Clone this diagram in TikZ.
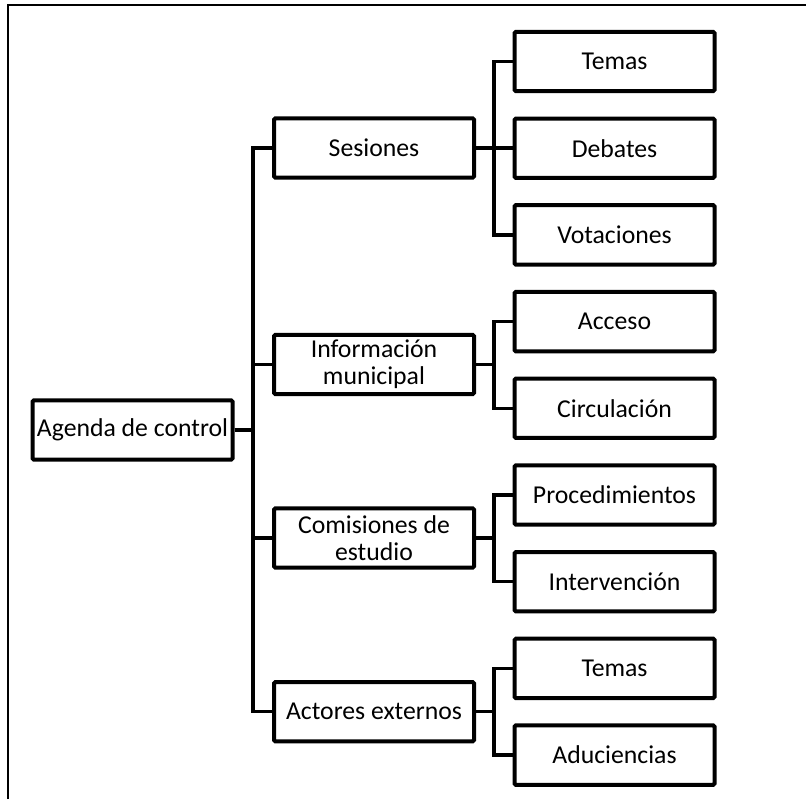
\documentclass[tikz,border=0pt]{standalone}
\usepackage{fontspec}
\setmainfont{Carlito}
\usetikzlibrary{positioning}

\tikzset{
    caja/.style={draw, line width=3pt, rounded corners=1pt, fill=white,
        minimum width=150pt, minimum height=44.5pt, inner sep=0.5pt,
        align=center, font=\fontsize{19.3}{20.5}\selectfont},
    conector/.style={line width=2.6pt, line join=miter}
}

\begin{document}
\begin{tikzpicture}[x=0.75pt, y=-0.75pt]
    \useasboundingbox (0,0) rectangle (806,799);
    % Frame (only top and left edges are visible)
    \draw[line width=1.4pt] (8,799) -- (8,5) -- (806,5);

    % Root
    \node[caja] (raiz) at (132.5,430) {Agenda de control};

    % Second level
    \node[caja] (ses) at (374,148)   {Sesiones};
    \node[caja] (inf) at (374,364.5) {Información\\municipal};
    \node[caja] (com) at (374,538)   {Comisiones de\\estudio};
    \node[caja] (act) at (374,711.7) {Actores externos};

    % Third level
    \node[caja] (tem1) at (614.5,61.5)  {Temas};
    \node[caja] (deb)  at (614.5,148.2) {Debates};
    \node[caja] (vot)  at (614.5,234.9) {Votaciones};
    \node[caja] (acc)  at (614.5,321.6) {Acceso};
    \node[caja] (cir)  at (614.5,408.3) {Circulación};
    \node[caja] (pro)  at (614.5,495)   {Procedimientos};
    \node[caja] (int)  at (614.5,581.7) {Intervención};
    \node[caja] (tem2) at (614.5,668.4) {Temas};
    \node[caja] (adu)  at (614.5,755.1) {Aduciencias};

    % Connectors
    \coordinate (t0) at (253,430);
    \foreach \h in {ses,inf,com,act} {
        \draw[conector] (raiz.east) -- (t0) |- (\h.west);
    }
    \foreach \p/\h in {ses/tem1,ses/deb,ses/vot,inf/acc,inf/cir,com/pro,com/int,act/tem2,act/adu} {
        \draw[conector] (\p.east) -- (494,0 |- \p.east) |- (\h.west);
    }
\end{tikzpicture}
\end{document}
